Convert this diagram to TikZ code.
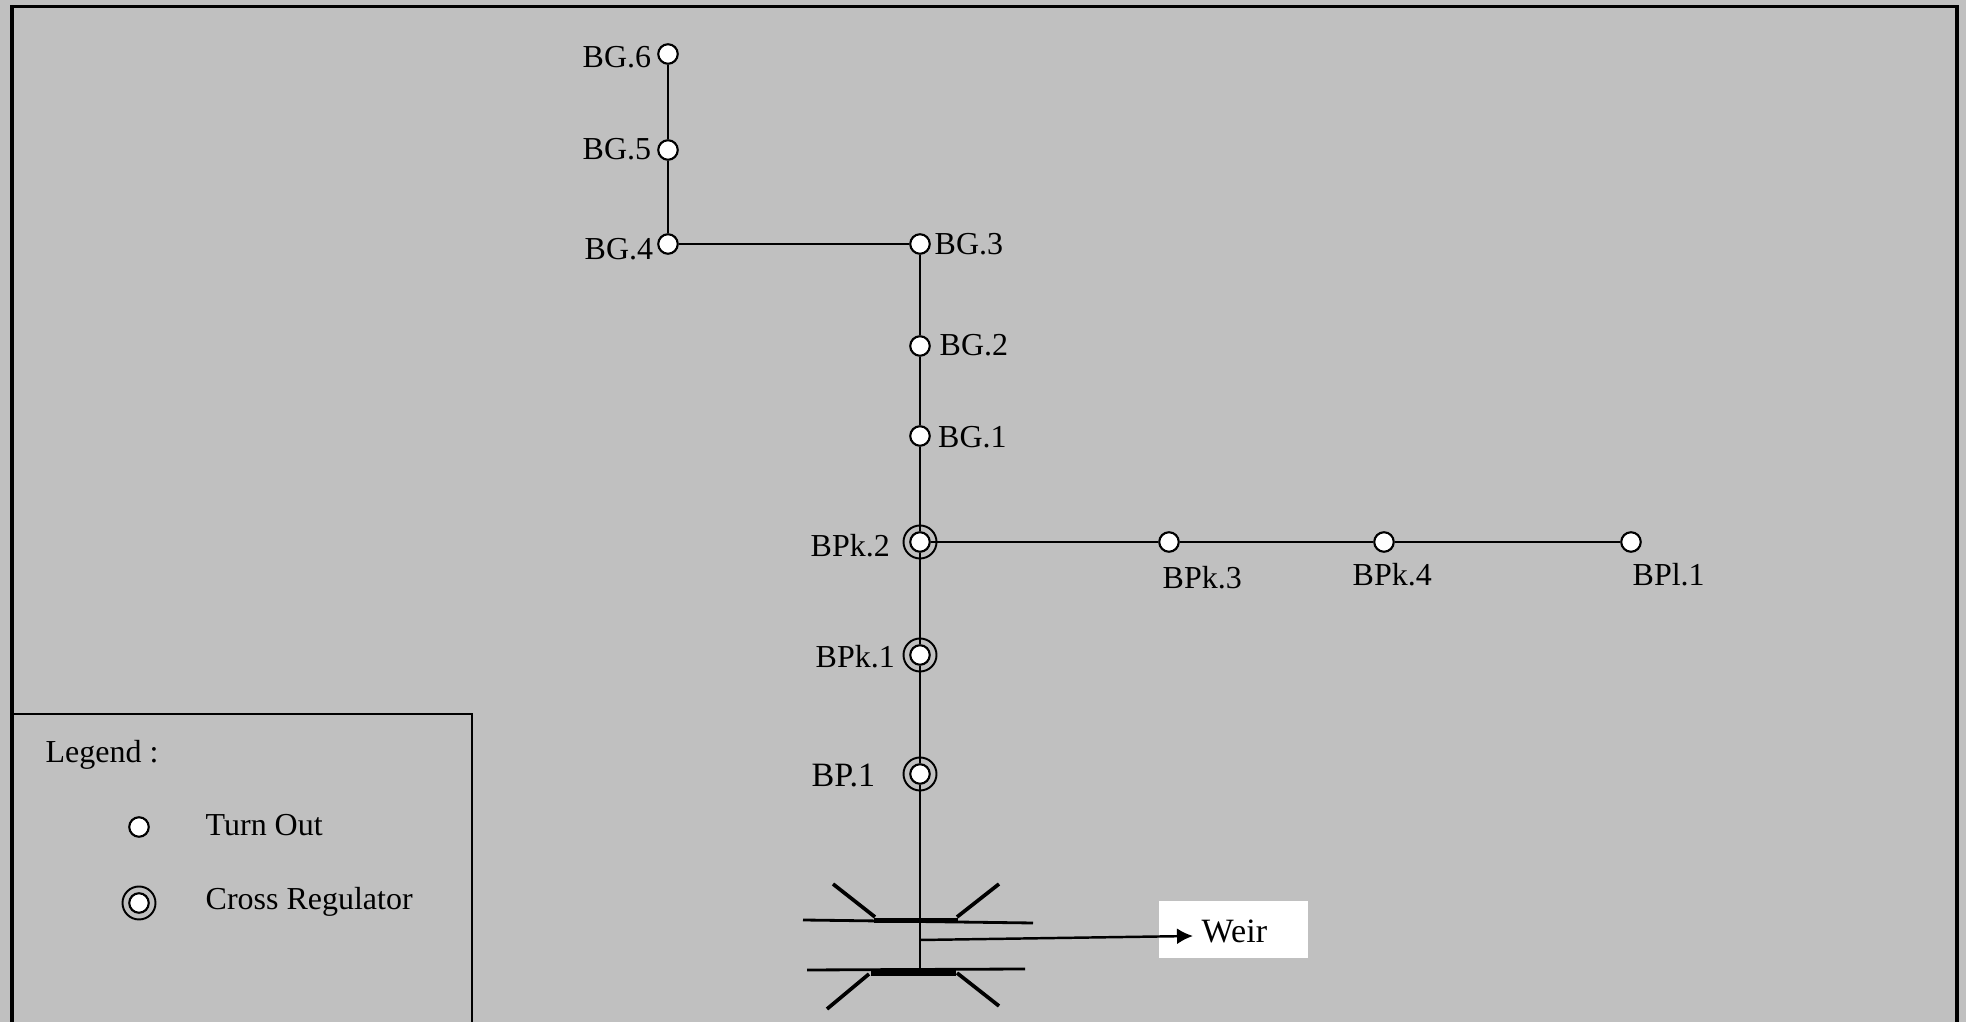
\documentclass[tikz,border=0pt]{standalone}
\usepackage{fontspec}
\setmainfont{Liberation Serif}
\usetikzlibrary{arrows.meta}
\definecolor{canalgray}{HTML}{C0C0C0}
\tikzset{
  turnout/.style={draw=black, fill=white, circle, line width=0.6pt, minimum size=0.195cm, inner sep=0pt},
  ringmark/.style={draw=black, circle, line width=0.55pt, minimum size=0.33cm, inner sep=0pt},
  regulator/.style={turnout, label={[ringmark]center:}},
  canal/.style={draw=black, line width=0.6pt},
  tag/.style={anchor=base west, inner sep=0pt, font=\fontsize{9.1}{10}\selectfont},
  widetag/.style={tag, font=\fontsize{9.7}{10}\selectfont},
  weirline/.style={draw=black, line width=0.8pt},
  weirwing/.style={draw=black, line width=1.05pt},
  weirbar/.style={draw=black, line width=1.5pt},
}
\begin{document}
\begin{tikzpicture}[x=0.1mm, y=-0.1mm]
            \useasboundingbox (0,0) rectangle (1966,1022);
            % Draw background and frame
            \fill[canalgray] (0,0) rectangle (1966,1022);
            \draw[black, line width=1.1pt] (12,1022) -- (12,6.5) -- (1957,6.5) -- (1957,1022);
            % Draw legend box
            \draw[black, line width=0.5pt] (12,714) -- (472,714) -- (472,1022);
            \node[tag] (legend) at (45,763) {Legend :};
            \node[turnout] (keyturnout) at (139,827) {};
            \node[regulator] (keyregulator) at (139,903) {};
            \node[tag] (keyturnouttext) at (205,836) {Turn Out};
            \node[tag] (keyregulatortext) at (205,910) {Cross Regulator};
            % Add turn outs
            \node[turnout] (bg6) at (668,54) {};
            \node[turnout] (bg5) at (668,150) {};
            \node[turnout] (bg4) at (668,244) {};
            \node[turnout] (bg3) at (920,244) {};
            \node[turnout] (bg2) at (920,346) {};
            \node[turnout] (bg1) at (920,436) {};
            \node[turnout] (bpk3) at (1169,542) {};
            \node[turnout] (bpk4) at (1384,542) {};
            \node[turnout] (bpl1) at (1631,542) {};
            % Add cross regulators
            \node[regulator] (bpk2) at (920,542) {};
            \node[regulator] (bpk1) at (920,655) {};
            \node[regulator] (bp1) at (920,774) {};
            % Add names
            \node[tag] (bg6text) at (582,68) {BG.6};
            \node[tag] (bg5text) at (582,160) {BG.5};
            \node[tag] (bg4text) at (584,260) {BG.4};
            \node[tag] (bg3text) at (934,255) {BG.3};
            \node[tag] (bg2text) at (939,356) {BG.2};
            \node[tag] (bg1text) at (937.5,447.5) {BG.1};
            \node[tag] (bpk2text) at (810,556.5) {BPk.2};
            \node[tag] (bpk1text) at (815,667.5) {BPk.1};
            \node[widetag] (bp1text) at (811,786.5) {BP.1};
            \node[tag] (bpk3text) at (1162,589) {BPk.3};
            \node[tag] (bpk4text) at (1352,586) {BPk.4};
            \node[tag] (bpl1text) at (1632,586) {BPl.1};
            % Draw canal lines
            \coordinate (weirfoot) at (920,969);
            \coordinate (weirtap) at (920,940);
            \coordinate (weirtip) at (1193,936);
            \draw[canal] (bg6) -- (bg5);
            \draw[canal] (bg5) -- (bg4);
            \draw[canal] (bg4) -- (bg3);
            \draw[canal] (bg3) -- (bg2);
            \draw[canal] (bg2) -- (bg1);
            \draw[canal] (bg1) -- (bpk2);
            \draw[canal] (bpk2) -- (bpk1);
            \draw[canal] (bpk1) -- (bp1);
            \draw[canal] (bp1) -- (weirfoot);
            \draw[canal] (bpk2) -- (bpk3);
            \draw[canal] (bpk3) -- (bpk4);
            \draw[canal] (bpk4) -- (bpl1);
            % Draw upper side of weir
            \draw[weirline] (803,920) -- (1033,923);
            \draw[weirbar] (874,920.5) -- (958,920.5);
            \draw[weirwing] (833,884) -- (875,917);
            \draw[weirwing] (999,884) -- (957,917);
            % Draw lower side of weir
            \draw[weirline] (807,970) -- (1025,969);
            \draw[weirbar, line width=1.8pt] (871,973) -- (956,973);
            \draw[weirwing] (869,974) -- (827,1009);
            \draw[weirwing] (957,973) -- (999,1006);
            % Add weir box
            \node[fill=white, minimum width=1.49cm, minimum height=0.57cm, inner sep=0pt] (weirbox) at (1233.5,929.5) {};
            \node[widetag] (weirtext) at (1201,943) {Weir};
            \draw[canal, line width=0.7pt, -{Latex[length=0.16cm, width=0.16cm]}] (weirtap) -- (weirtip);
\end{tikzpicture}
\end{document}
